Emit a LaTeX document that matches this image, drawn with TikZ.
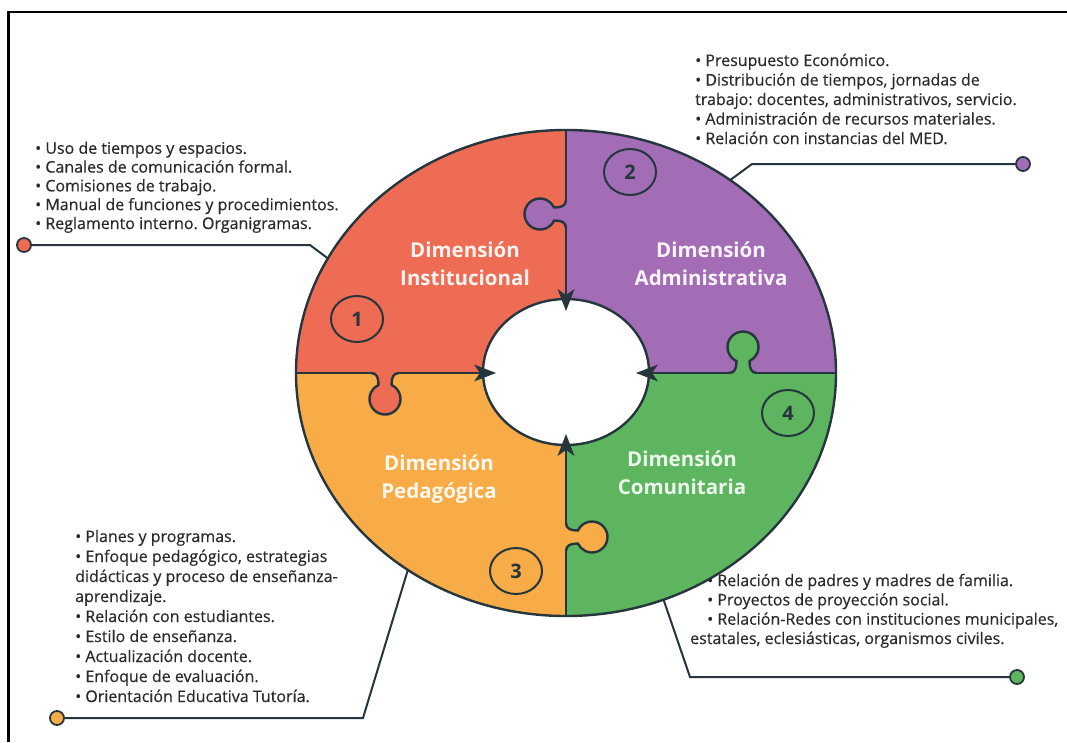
\documentclass[tikz,border=0pt]{standalone}
\usepackage{fontspec}
\setmainfont{Open Sans}
\newfontfamily\listfont{Open Sans}[FakeBold=0.4]
\usetikzlibrary{shapes.geometric}
\definecolor{cRed}{HTML}{EE6C54}
\definecolor{cPur}{HTML}{A36DB5}
\definecolor{cOra}{HTML}{F8AC47}
\definecolor{cGre}{HTML}{5DB55F}
\definecolor{cLine}{HTML}{26363E}
\definecolor{cText}{HTML}{2A2A2A}
\newcommand\puzknob[4]{%
  \begin{scope}[shift={(#1,#2)}, x=1pt, y=1pt, rotate=#3]
    \fill[#4] (-14,-1.6) -- (-14,0) .. controls (-8,0) and (-6.5,5) .. (-6.5,11.93)
      arc[start angle=245.2, end angle=-65.2, radius=15.5]
      .. controls (6.5,5) and (8,0) .. (14,0) -- (14,-1.6) -- cycle;
    \draw[outl] (-14,0) .. controls (-8,0) and (-6.5,5) .. (-6.5,11.93)
      arc[start angle=245.2, end angle=-65.2, radius=15.5]
      .. controls (6.5,5) and (8,0) .. (14,0);
  \end{scope}}
\newcommand\flowtip[3]{%
  \begin{scope}[shift={(#1,#2)}, x=1pt, y=1pt, rotate=#3]
    \fill[cLine] (0,0) -- (-22,8.5) -- (-16,0) -- (-22,-8.5) -- cycle;
  \end{scope}}
\begin{document}
\frenchspacing
\begin{tikzpicture}[x=1pt,y=-1pt,
  outl/.style={draw=cLine, line width=2.4pt},
  conn/.style={draw=cLine, line width=2pt},
  dotn/.style={circle, draw=cLine, line width=1.8pt, minimum size=14pt, inner sep=0pt},
  numc/.style={ellipse, draw=cLine, line width=2pt, minimum width=52pt, minimum height=46pt, inner sep=0pt, font=\fontsize{20}{20}\selectfont\bfseries, text=cLine},
  dimlab/.style={align=center, inner sep=0pt, font=\fontsize{20.5}{28}\selectfont\bfseries},
  listtxt/.style={align=left, anchor=base west, inner sep=0pt, text=cText},
]
\useasboundingbox (0,0) rectangle (1067,742);
\fill[white] (0,0) rectangle (1067,742);
\draw[line width=2.4pt] (8.5,742) -- (8.5,12) -- (1067,12);

% connectors
\node[dotn, fill=cRed] (dR) at (24,245) {};
\coordinate (kR) at (310,245);
\coordinate (eR) at (342,269);
\draw[conn] (dR) -- (kR) -- (eR);
\node[dotn, fill=cPur] (dP) at (1023,164) {};
\coordinate (kP) at (752,164);
\coordinate (eP) at (718,189);
\draw[conn] (dP) -- (kP) -- (eP);
\node[dotn, fill=cOra] (dO) at (57,718) {};
\coordinate (kO) at (363,718);
\coordinate (eO) at (416,543);
\draw[conn] (dO) -- (kO) -- (eO);
\node[dotn, fill=cGre] (dG) at (1017,677) {};
\coordinate (kG) at (690,677);
\coordinate (eG) at (650,560);
\draw[conn] (dG) -- (kG) -- (eG);

% puzzle ring
\begin{scope}[shift={(566,373)}, x=1pt, y=1pt]
  \fill[cRed] (0,0) -- (-270,0) arc[start angle=180, end angle=90, x radius=270, y radius=243] -- cycle;
  \fill[cPur] (0,0) -- (0,243) arc[start angle=90, end angle=0, x radius=270, y radius=243] -- cycle;
  \fill[cGre] (0,0) -- (270,0) arc[start angle=0, end angle=-90, x radius=270, y radius=243] -- cycle;
  \fill[cOra] (0,0) -- (0,-243) arc[start angle=270, end angle=180, x radius=270, y radius=243] -- cycle;
  \draw[outl] (0,0) ellipse[x radius=270, y radius=243];
  \draw[outl] (0,243) -- (0,-243);
  \draw[outl] (-270,0) -- (270,0);
\end{scope}
\puzknob{566}{214}{90}{cPur}
\puzknob{385}{373}{180}{cRed}
\puzknob{743}{373}{0}{cGre}
\puzknob{566}{537}{-90}{cOra}

\draw[outl, fill=white] (566,372) ellipse[x radius=83, y radius=73];
\flowtip{566}{311}{-90}
\flowtip{496}{373}{0}
\flowtip{636}{373}{180}
\flowtip{566}{434}{90}

% numbers
\node[numc] (n1) at (357,319) {1};
\node[numc] (n2) at (630,172) {2};
\node[numc] (n3) at (516,571) {3};
\node[numc] (n4) at (788,413) {4};

% dimension labels
\node[dimlab, text=white!92!cRed] (lI) at (465,264) {Dimensión\\Institucional};
\node[dimlab, text=white!92!cPur] (lA) at (711,264) {Dimensión\\Administrativa};
\node[dimlab, text=white!92!cOra] (lP) at (439,479) {Dimensión\\Pedagógica};
\node[dimlab, text=white!88!cGre] (lC) at (682,473) {Dimensión\\Comunitaria};

% lists (anchor = baseline of the last line)
\node[listtxt, font=\listfont\fontsize{16}{18.8}\selectfont] (tI) at (35,229) {• Uso de tiempos y espacios.\\• Canales de comunicación formal.\\• Comisiones de trabajo.\\• Manual de funciones y procedimientos.\\• Reglamento interno. Organigramas.};
\node[listtxt, font=\listfont\fontsize{16}{19.5}\selectfont] (tA) at (695,144) {• Presupuesto Económico.\\• Distribución de tiempos, jornadas de\\trabajo: docentes, administrativos, servicio.\\• Administración de recursos materiales.\\• Relación con instancias del MED.};
\node[listtxt, font=\listfont\fontsize{16}{20}\selectfont] (tP) at (75,702) {• Planes y programas.\\• Enfoque pedagógico, estrategias\\didácticas y proceso de enseñanza-\\aprendizaje.\\• Relación con estudiantes.\\• Estilo de enseñanza.\\• Actualización docente.\\• Enfoque de evaluación.\\• Orientación Educativa Tutoría.};
\node[listtxt, font=\listfont\fontsize{16}{19.3}\selectfont] (tC) at (690,644) {\hspace*{17pt}• Relación de padres y madres de familia.\\\hspace*{17pt}• Proyectos de proyección social.\\\hspace*{17pt}• Relación-Redes con instituciones municipales,\\estatales, eclesiásticas, organismos civiles.};
\end{tikzpicture}
\end{document}
